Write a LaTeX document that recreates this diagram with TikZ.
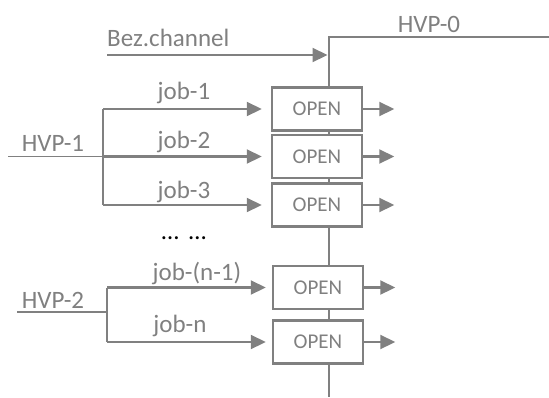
\documentclass[tikz,border=0pt]{standalone}
\usepackage{fontspec}
\setmainfont{Carlito}
\usepackage{xcolor}
\usetikzlibrary{arrows.meta}
\usetikzlibrary{positioning}
\definecolor{linegray}{RGB}{128,128,128}
\tikzstyle{gate} = [rectangle, draw=linegray, line width=2.5pt, fill=white,
    minimum width=90pt, minimum height=43pt, text=linegray,
    font=\fontsize{21}{24}\selectfont]
\tikzstyle{tag} = [anchor=base, inner sep=0pt, text=linegray,
    font=\fontsize{25}{28}\selectfont]
\tikzstyle{line} = [draw=linegray, line width=2.2pt,
    -{Triangle[length=15pt,width=14pt]}]
\tikzstyle{wire} = [draw=linegray, line width=2.5pt]
\tikzstyle{bus} = [draw=linegray, line width=1.5pt]
\tikzstyle{feed} = [draw=linegray, line width=1.2pt]

\begin{document}
\begin{tikzpicture}[x=1pt, y=-1pt, node distance=31pt]
  \useasboundingbox (0,0) rectangle (549,397);
  % Trunk
  \coordinate (top) at (329,37);
  \coordinate (bottom) at (329,397);
  \coordinate (hvp0end) at (549,37);
  \draw[wire] (hvp0end) -- (top) -- (bottom);
  % Place nodes
  \node [gate] (open1) at (317,109) {OPEN};
  \node [gate] (open2) at (317,156.5) {OPEN};
  \node [gate] (open3) at (317,205) {OPEN};
  \node [gate] (open4) at (318,287.5) {OPEN};
  \node [gate] (open5) at (318,342) {OPEN};
  \node [coordinate, right=of open1] (out1) {};
  \node [coordinate, right=of open2] (out2) {};
  \node [coordinate, right=of open3] (out3) {};
  \node [coordinate, right=of open4] (out4) {};
  \node [coordinate, right=of open5] (out5) {};
  \coordinate (bez) at (107,55);
  \coordinate (in1) at (8,156.5);
  \coordinate (bus1a) at (103,109);
  \coordinate (bus1b) at (103,156.5);
  \coordinate (bus1c) at (103,205);
  \coordinate (in2) at (17,312);
  \coordinate (bus2a) at (107,287.5);
  \coordinate (bus2m) at (107,312);
  \coordinate (bus2b) at (107,342);
  % Labels
  \node [tag, anchor=base west] (bezlabel) at (107,46) {Bez.channel};
  \node [tag] (hvp0) at (429,32) {HVP-0};
  \node [tag] (hvp1) at (53,151) {HVP-1};
  \node [tag] (hvp2) at (53,308) {HVP-2};
  \node [tag] (job1) at (184,99) {job-1};
  \node [tag] (job2) at (184,148) {job-2};
  \node [tag] (job3) at (184,198) {job-3};
  \node [tag, text=black] (dots) at (184,239) {…\hspace{10pt}…};
  \node [tag] (jobn1) at (197,280) {job-(n-1)};
  \node [tag] (jobn) at (180,332) {job-n};
  % Draw edges
  \path[line, shorten >=1.5pt] (bez) -- (bez -| top);
  \draw[feed] (in1) -- (bus1b);
  \draw[bus] (bus1a) -- (bus1c);
  \draw[feed] (in2) -- (bus2m);
  \draw[bus] (bus2a) -- (bus2b);
  \path[line, shorten >=9pt] (bus1a) -- (open1.west);
  \path[line, shorten >=9pt] (bus1b) -- (open2.west);
  \path[line, shorten >=9pt] (bus1c) -- (open3.west);
  \path[line, shorten >=6pt] (bus2a) -- (open4.west);
  \path[line, shorten >=6pt] (bus2b) -- (open5.west);
  \path[line] (open1) -- (out1);
  \path[line] (open2) -- (out2);
  \path[line] (open3) -- (out3);
  \path[line] (open4) -- (out4);
  \path[line] (open5) -- (out5);
\end{tikzpicture}
\end{document}
